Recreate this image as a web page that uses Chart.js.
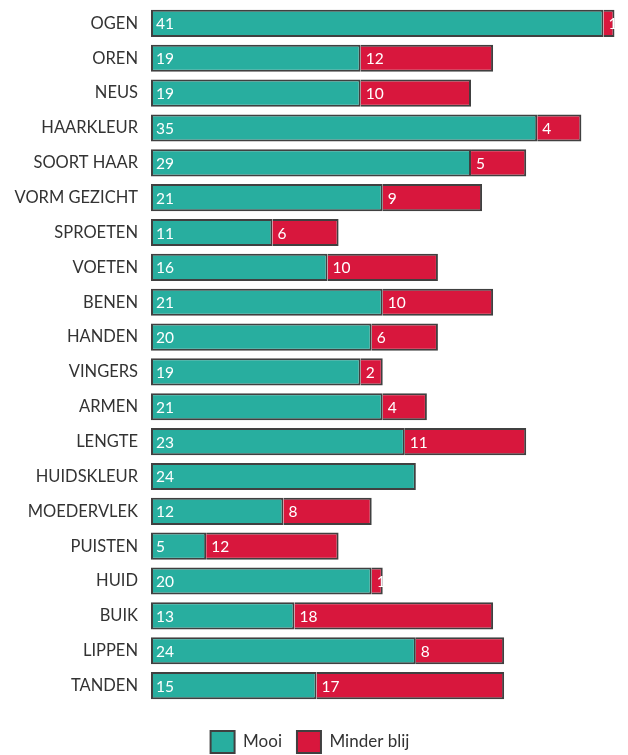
<!DOCTYPE html>
<html>
<head>
<meta charset="utf-8">
<script src="https://cdn.jsdelivr.net/npm/chart.js@4/dist/chart.umd.min.js"></script>
<style>
  html, body { margin: 0; padding: 0; background: #fff; }
  #wrap { width: 628px; height: 755px; position: relative; }
</style>
</head>
<body>
<div id="wrap"><canvas id="chart"></canvas></div>
<script>
  // Data
  const categories = ['OGEN', 'OREN', 'NEUS', 'HAARKLEUR', 'SOORT HAAR', 'VORM GEZICHT', 'SPROETEN', 'VOETEN',
    'BENEN', 'HANDEN', 'VINGERS', 'ARMEN', 'LENGTE', 'HUIDSKLEUR', 'MOEDERVLEK', 'PUISTEN', 'HUID', 'BUIK',
    'LIPPEN', 'TANDEN'];
  const mooi = [41, 19, 19, 35, 29, 21, 11, 16, 21, 20, 19, 21, 23, 24, 12, 5, 20, 13, 24, 15];
  const minderBlij = [1, 12, 10, 4, 5, 9, 6, 10, 10, 6, 2, 4, 11, 0, 8, 12, 1, 18, 8, 17];

  const teal = '#28ae9f';
  const red = '#d8173d';
  const edge = '#404040';

  // white value labels at the left of every segment
  const segmentLabels = {
    id: 'segmentLabels',
    afterDatasetsDraw(chart) {
      const ctx = chart.ctx;
      ctx.save();
      ctx.fillStyle = '#ffffff';
      ctx.font = '15.5px Lato';
      ctx.textBaseline = 'middle';
      ctx.textAlign = 'left';
      chart.data.datasets.forEach((ds, i) => {
        chart.getDatasetMeta(i).data.forEach((bar, j) => {
          const v = ds.data[j];
          if (!v) return;
          const left = Math.min(bar.x, bar.base);
          ctx.fillText(String(v), left + 5, bar.y + 1);
        });
      });
      ctx.restore();
    }
  };

  new Chart(document.getElementById('chart'), {
    type: 'bar',
    data: {
      labels: categories,
      datasets: [
        { label: 'Mooi', data: mooi, backgroundColor: teal, borderColor: edge, borderWidth: 2,
          borderSkipped: false, barPercentage: 0.78, categoryPercentage: 1 },
        { label: 'Minder blij', data: minderBlij, backgroundColor: red, borderColor: edge, borderWidth: 2,
          borderSkipped: 'start', barPercentage: 0.78, categoryPercentage: 1 }
      ]
    },
    options: {
      indexAxis: 'y',
      responsive: true,
      maintainAspectRatio: false,
      animation: false,
      layout: { padding: { top: 6, right: 8, left: 0, bottom: -8 } },
      scales: {
        x: {
          stacked: true,
          min: 0,
          max: 42.5,
          grid: { display: false, drawTicks: false },
          border: { display: false },
          ticks: { display: false },
          afterFit(scale) { scale.height = 13; }
        },
        y: {
          stacked: true,
          grid: { display: false, drawTicks: false },
          border: { display: false },
          ticks: { color: '#333333', font: { family: 'Lato', size: 16.5 }, padding: 13 },
          afterFit(scale) {
            scale.width = 151;
            scale.paddingTop = 0;
            scale.paddingBottom = 0;
          }
        }
      },
      plugins: {
        tooltip: { enabled: false },
        legend: {
          position: 'bottom',
          labels: {
            boxWidth: 24,
            boxHeight: 22,
            padding: 15,
            color: '#333333',
            font: { family: 'Lato', size: 17 }
          }
        }
      }
    },
    plugins: [segmentLabels]
  });
</script>
</body>
</html>
